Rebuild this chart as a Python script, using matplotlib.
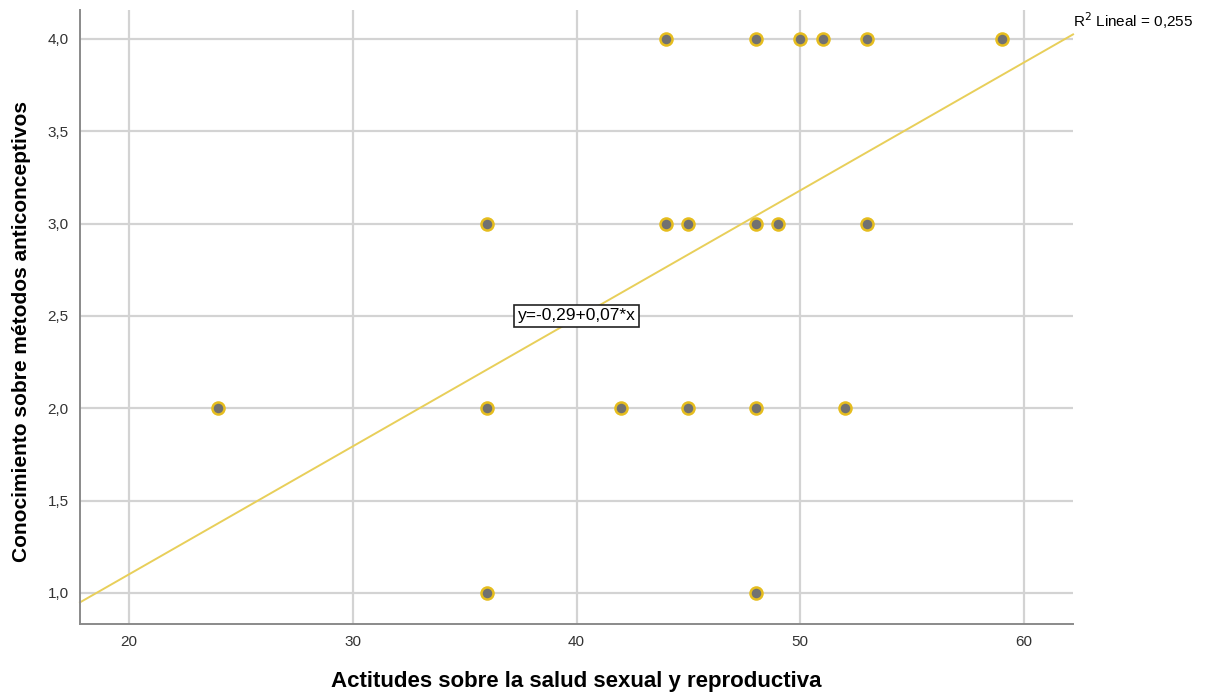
import numpy as np
import matplotlib.pyplot as plt

plt.rcParams['font.family'] = ['Liberation Sans', 'DejaVu Sans']

# puntos (actitudes, conocimiento)
x_vals = [44, 48, 50, 51, 53, 59,
          36, 44, 45, 48, 49, 53,
          24, 36, 42, 45, 48, 52,
          36, 48]
y_vals = [4, 4, 4, 4, 4, 4,
          3, 3, 3, 3, 3, 3,
          2, 2, 2, 2, 2, 2,
          1, 1]

# recta de ajuste
intercept = -0.285
slope = 0.0693
eq_label = "y=-0,29+0,07*x"
r2_label = "R$^2$ Lineal = 0,255"

x_ticks = [20, 30, 40, 50, 60]
y_ticks = [1.0, 1.5, 2.0, 2.5, 3.0, 3.5, 4.0]

fig = plt.figure(figsize=(12.08, 6.97), dpi=100)
ax = fig.add_axes([0.0662, 0.1047, 0.8221, 0.881])

xmin, xmax = 17.81, 62.19
ax.set_xlim(xmin, xmax)
ax.set_ylim(0.832, 4.157)

ax.set_xticks(x_ticks)
ax.set_yticks(y_ticks)
ax.set_yticklabels([f"{v:.1f}".replace('.', ',') for v in y_ticks])
ax.tick_params(length=0, labelsize=11, colors='#333333', pad=8)
ax.grid(True, color='#d3d3d3', linewidth=1.6, zorder=0)

for s in ['top', 'right']:
    ax.spines[s].set_visible(False)
for s in ['left', 'bottom']:
    ax.spines[s].set_color('#8a8a8a')
    ax.spines[s].set_linewidth(1.4)

# linea de regresion
xl = np.array([xmin, xmax])
ax.plot(xl, intercept + slope * xl, color='#e8cf5a', linewidth=1.4, zorder=2, clip_on=False)

ax.scatter(x_vals, y_vals, s=75, facecolor='#717171', edgecolor='#e6bd1e',
           linewidth=1.8, zorder=3)

ax.text(40, 2.5, eq_label, ha='center', va='center', fontsize=12.5,
        bbox=dict(boxstyle='square,pad=0.2', facecolor='white', edgecolor='#222222', linewidth=1.2),
        zorder=4)

fig.text(0.8883, 0.971, r2_label, ha='left', va='center', fontsize=11)

ax.set_xlabel('Actitudes sobre la salud sexual y reproductiva', fontsize=16,
              fontweight='bold', labelpad=16)
ax.set_ylabel('Conocimiento sobre métodos anticonceptivos', fontsize=15,
              fontweight='bold')
ax.yaxis.set_label_coords(-0.049, 0.4756)

fig.savefig('out.png', dpi=100)
